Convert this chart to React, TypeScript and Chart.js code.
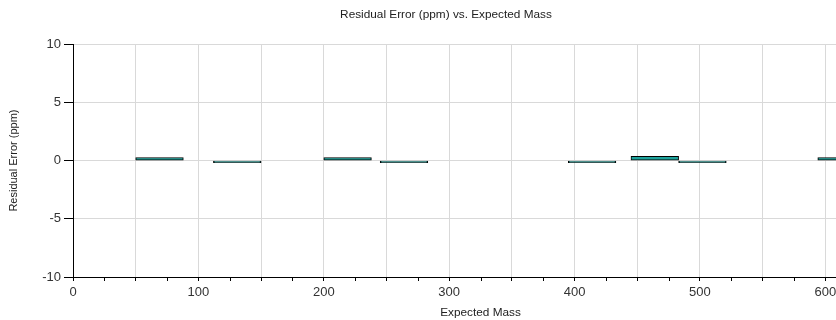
import React, { useEffect, useRef } from 'react';
import { Chart, registerables } from 'chart.js';

Chart.register(...registerables);

// Data
const expectedMass = [69, 131, 219, 264, 414, 464, 502, 613];
const residualPpm = [0.26, -0.17, 0.26, -0.17, -0.17, 0.36, -0.17, 0.26];
const xAxisMin = 0;
const xAxisMax = 650;
const yAxisMin = -10;
const yAxisMax = 10;

const FONT = "'Liberation Sans', Arial, sans-serif";

const minorTicks = {
  id: 'minorTicks',
  afterDraw(chart: any) {
    const x = chart.scales.x;
    const ctx = chart.ctx;
    ctx.save();
    ctx.strokeStyle = '#000';
    ctx.lineWidth = 1;
    for (let v = 25; v <= x.max; v += 50) {
      const px = Math.round(x.getPixelForValue(v)) + 0.5;
      ctx.beginPath();
      ctx.moveTo(px, x.top);
      ctx.lineTo(px, x.top + 4);
      ctx.stroke();
    }
    ctx.restore();
  },
};

export default function App() {
  const ref = useRef<HTMLCanvasElement>(null);

  useEffect(() => {
    if (!ref.current) return;
    const points = expectedMass.map((m, i) => ({ x: m, y: residualPpm[i] }));
    const chart = new Chart(ref.current, {
      type: 'bar',
      data: {
        datasets: [
          {
            data: points as any,
            backgroundColor: '#1fa39c',
            borderColor: '#000',
            borderWidth: 1,
            borderSkipped: false,
            barPercentage: 1,
            categoryPercentage: 1,
            clip: false as any,
          },
        ],
      },
      plugins: [minorTicks],
      options: {
        animation: false,
        responsive: false,
        layout: { padding: 0 },
        plugins: {
          legend: { display: false },
          tooltip: { enabled: false },
          title: {
            display: true,
            text: 'Residual Error (ppm) vs. Expected Mass',
            color: '#222',
            font: { family: FONT, size: 11.8, weight: 'normal' },
            padding: { top: 8, bottom: 22 },
          },
        },
        scales: {
          x: {
            type: 'linear',
            min: xAxisMin,
            max: xAxisMax,
            offset: false,
            border: { display: true, color: '#000', width: 1 },
            grid: {
              offset: false,
              color: '#d9d9d9',
              tickColor: '#000',
              tickLength: 4,
              drawTicks: true,
            },
            ticks: {
              stepSize: 50,
              autoSkip: false,
              maxRotation: 0,
              padding: 4,
              color: '#333',
              font: { family: FONT, size: 13 },
              callback: (v: any) => (Number(v) % 100 === 0 ? String(v) : ''),
            },
            title: {
              display: true,
              text: 'Expected Mass',
              color: '#222',
              font: { family: FONT, size: 11.8 },
              padding: { top: 0, bottom: 0 },
            },
            afterFit: (s: any) => {
              s.height = 43;
            },
          },
          y: {
            type: 'linear',
            min: yAxisMin,
            max: yAxisMax,
            border: { display: true, color: '#000', width: 1 },
            grid: {
              color: '#d9d9d9',
              tickColor: '#000',
              tickLength: 9,
            },
            ticks: {
              stepSize: 5,
              padding: 3,
              color: '#333',
              font: { family: FONT, size: 13 },
            },
            title: {
              display: true,
              text: 'Residual Error (ppm)',
              color: '#222',
              font: { family: FONT, size: 11 },
              padding: { top: 7, bottom: 0 },
            },
            afterFit: (s: any) => {
              s.width = 73;
            },
          },
        },
      },
    });
    return () => chart.destroy();
  }, []);

  return (
    <div
      style={{
        position: 'absolute',
        left: 0,
        top: 0,
        width: 836,
        height: 320,
        overflow: 'hidden',
        background: '#fff',
      }}
    >
      <canvas ref={ref} width={892} height={320} style={{ display: 'block' }} />
    </div>
  );
}
